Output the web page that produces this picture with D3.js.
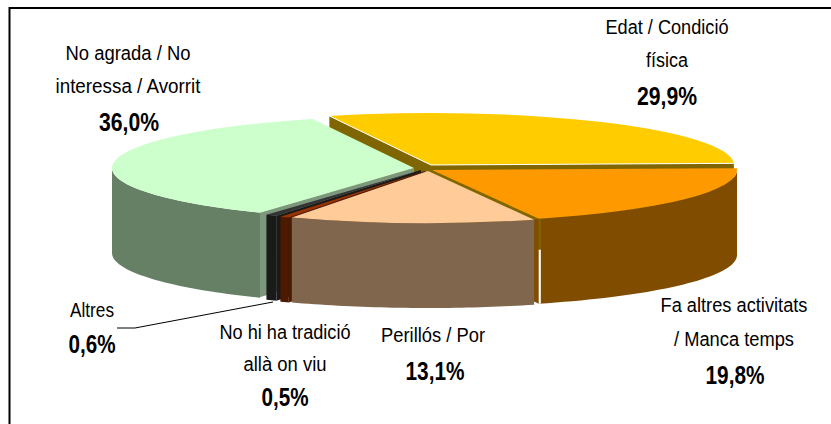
<!DOCTYPE html>
<html>
<head>
<meta charset="utf-8">
<script src="https://cdn.jsdelivr.net/npm/d3@7"></script>
<style>
html, body { margin: 0; padding: 0; background: #fff; overflow: hidden; }
svg { display: block; }
text { font-family: "Liberation Sans", Arial, sans-serif; fill: #000; }
</style>
</head>
<body>
<div id="chart"></div>
<script>
//Width and height
var w = 831;
var h = 424;

//Values, clockwise from the top
const categories = ["Edat / Condició física", "Fa altres activitats / Manca temps", "Perillós / Por",
    "No hi ha tradició allà on viu", "Altres", "No agrada / No interessa / Avorrit"];
const shares = [29.9, 19.8, 13.1, 0.5, 0.6, 36.0];
const shareLabels = ["29,9%", "19,8%", "13,1%", "0,5%", "0,6%", "36,0%"];

//Look of the slices, same order as above
const topColors = ["#ffcc00", "#ff9900", "#ffcc99", "#993300", "#333333", "#ccffcc"];
const wallColors = ["#806600", "#804d00", "#80664d", "#4d1a00", "#1a1a1a", "#668066"];
const centerX = [431, 432, 428, 425, 421, 414];
const centerY = [165, 170, 171, 171, 170, 168];
const radiusX = [303, 305, 303, 303, 303, 302];

var radiusY = 52;
var depth = 85;
var startDeg = -19.6;
var rad = Math.PI / 180;

//Label lines: slice index, text, centre x, baseline y, width, bold
const labelLines = [
    [0, "Edat / Condició", 667, 34, 123, false],
    [0, "física", 667, 67, 42, false],
    [0, null, 667, 105, 60, true],
    [1, "Fa altres activitats", 734, 312, 147, false],
    [1, "/ Manca temps", 734, 346, 120, false],
    [1, null, 735, 384, 59, true],
    [2, "Perillós / Por", 433, 342, 104, false],
    [2, null, 435, 380, 59, true],
    [3, "No hi ha tradició", 285, 339, 131, false],
    [3, "allà on viu", 285, 371, 83, false],
    [3, null, 285, 406, 47, true],
    [4, "Altres", 92, 317, 44, false],
    [4, null, 92, 353, 47, true],
    [5, "No agrada / No", 128, 60, 125, false],
    [5, "interessa / Avorrit", 128, 93, 145, false],
    [5, null, 129, 131, 60, true]
];

var svg = d3.select("#chart")
    .append("svg")
    .attr("width", w)
    .attr("height", h);

//Frame: only the top and left sides are in the picture
svg.append("path")
    .attr("d", d3.line()([[w, 8], [9.5, 8], [9.5, h]]))
    .attr("fill", "none")
    .attr("stroke", "#000")
    .attr("stroke-width", 2);

var pie = d3.pie()
    .sort(null)
    .startAngle(startDeg * rad)
    .endAngle((startDeg + 360) * rad);

var slices = pie(shares).map(function (d, i) {
    return {
        i: i,
        a0: d.startAngle,
        a1: d.endAngle,
        cx: centerX[i],
        cy: centerY[i],
        rx: radiusX[i]
    };
});

function rim(s, a, drop) {
    return [s.cx + s.rx * Math.sin(a), s.cy - radiusY * Math.cos(a) + (drop || 0)];
}

var line = d3.line();
var topArc = d3.arc().innerRadius(0);

function drawRadialWall(s, a, color) {
    svg.append("path")
        .attr("d", line([[s.cx, s.cy], rim(s, a), rim(s, a, depth), [s.cx, s.cy + depth]]) + "Z")
        .attr("fill", color);
}

function drawOuterWall(s) {
    var from = Math.max(s.a0, 90 * rad);
    var to = Math.min(s.a1, 270 * rad);
    if (to <= from) return;
    var angles = d3.range(0, 41).map(function (k) { return from + (to - from) * k / 40; });
    var upper = angles.map(function (a) { return rim(s, a); });
    var lower = angles.slice().reverse().map(function (a) { return rim(s, a, depth); });
    svg.append("path")
        .attr("d", line(upper.concat(lower)) + "Z")
        .attr("fill", wallColors[s.i]);
}

function drawTop(s) {
    svg.append("path")
        .attr("transform", "translate(" + s.cx + "," + s.cy + ") scale(1," + radiusY / s.rx + ")")
        .attr("d", topArc({ startAngle: s.a0, endAngle: s.a1, outerRadius: s.rx }))
        .attr("fill", topColors[s.i]);
}

//Olive above the rim, brown below it, for the wall between orange and peach
var orangeRimY = rim(slices[1], slices[1].a1)[1];
var grad = svg.append("defs").append("linearGradient")
    .attr("id", "orangeWall")
    .attr("gradientUnits", "userSpaceOnUse")
    .attr("x1", 0).attr("x2", 0)
    .attr("y1", orangeRimY).attr("y2", orangeRimY + 1);
grad.append("stop").attr("offset", 0).attr("stop-color", "#806600");
grad.append("stop").attr("offset", 1).attr("stop-color", wallColors[1]);

//Yellow goes first, everything else is painted over its walls
var yellow = slices[0], orange = slices[1], peach = slices[2],
    brown = slices[3], dark = slices[4], green = slices[5];

drawRadialWall(yellow, yellow.a0, wallColors[0]);
drawRadialWall(yellow, yellow.a1, wallColors[0]);
drawTop(yellow);
svg.append("path")
    .attr("d", line([rim(yellow, yellow.a0), [yellow.cx, yellow.cy], rim(yellow, yellow.a1)]))
    .attr("fill", "none")
    .attr("stroke", "#fff")
    .attr("stroke-width", 1);

//Green, with the lighter end wall by the dark slice
drawRadialWall(green, green.a0 + 0.005, "#7d977d");
drawOuterWall(green);
drawTop(green);

drawRadialWall(dark, dark.a0, wallColors[4]);
drawOuterWall(dark);
drawTop(dark);

drawRadialWall(brown, brown.a0, wallColors[3]);
drawOuterWall(brown);
drawTop(brown);

//Orange
drawRadialWall(orange, orange.a1, "url(#orangeWall)");
drawOuterWall(orange);
drawTop(orange);

//The slit between orange and peach: olive at the top, white below
var slit = rim(orange, orange.a1);
svg.append("path")
    .attr("d", line([[slit[0] + 1, slit[1]], [slit[0] + 1, slit[1] + 31]]))
    .attr("stroke", "#806600")
    .attr("stroke-width", 2);
svg.append("path")
    .attr("d", line([[slit[0] + 1, slit[1] + 31], [slit[0] + 1, slit[1] + depth]]))
    .attr("stroke", "#fff")
    .attr("stroke-width", 2);

drawOuterWall(peach);
drawTop(peach);

//Leader line for Altres
svg.append("path")
    .attr("d", line([[117, 328], [135, 328], [273, 302]]))
    .attr("fill", "none")
    .attr("stroke", "#000")
    .attr("stroke-width", 1);

//Labels
svg.selectAll("text.label")
    .data(labelLines)
    .enter()
    .append("text")
    .attr("class", "label")
    .attr("x", function (d) { return d[2]; })
    .attr("y", function (d) { return d[3]; })
    .attr("text-anchor", "middle")
    .attr("font-size", function (d) { return d[5] ? "25px" : "20px"; })
    .attr("font-weight", function (d) { return d[5] ? "bold" : "normal"; })
    .attr("textLength", function (d) { return d[4]; })
    .attr("lengthAdjust", "spacingAndGlyphs")
    .text(function (d) { return d[1] === null ? shareLabels[d[0]] : d[1]; });
</script>
</body>
</html>
